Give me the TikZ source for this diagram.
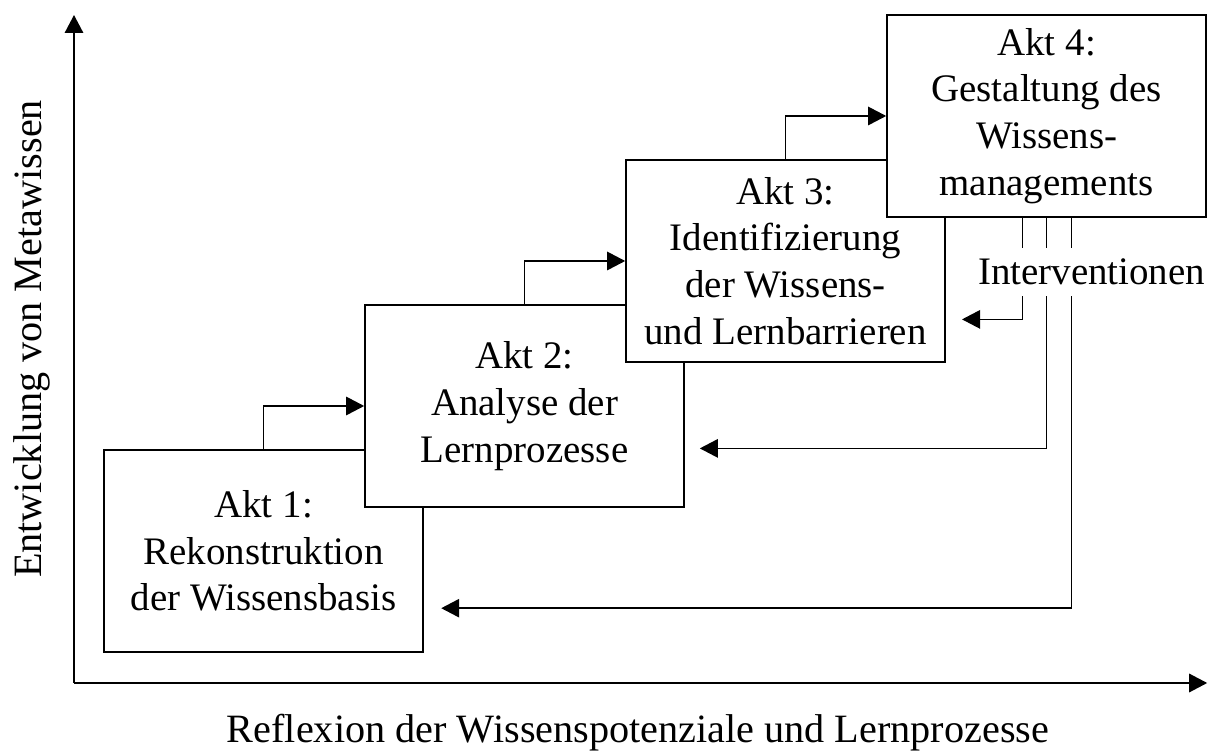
\documentclass[tikz,border=0pt]{standalone}
\usepackage{fontspec}
\setmainfont{Liberation Serif}
\usetikzlibrary{arrows.meta,positioning,calc}

\begin{document}
\begin{tikzpicture}[%
    >={Triangle[length=4.5mm,width=4.6mm]}, % filled arrow heads
    node distance=3.625cm and 6.525cm,     % step between the acts
    ]

\tikzset{
  akt/.style={draw, fill=white, line width=1.3pt, on grid, align=center,
    minimum width=7.975cm, minimum height=5.05cm,
    font=\fontsize{27.7}{33.2}\selectfont},
  % axis labels
  lab/.style={font=\fontsize{28.6}{31.3}\selectfont},
  coord/.style={coordinate},
  % -------------------------------------------------
  norm/.style={->, draw, line width=1.1pt},
  axis/.style={->, draw, line width=1.3pt},
}

  \useasboundingbox (0,0) rectangle (30.35,18.775);

  % axes
  \coordinate (origin) at (1.85,1.7);
  \coordinate (y_end) at (1.85,18.4);
  \coordinate (x_end) at (30.18,1.7);
  \draw[axis] (origin) -- (y_end);
  \draw[axis] (origin) -- (x_end);
  \node[lab, rotate=90] (y_lab) at (0.8,10.3) {Entwicklung von Metawissen};
  \node[lab] (x_lab) at (15.95,0.45) {Reflexion der Wissenspotenziale und Lernprozesse};

  \begin{scope}
    \node[akt] (akt1) at (6.59,5.0) {Akt 1:\\Rekonstruktion\\der Wissensbasis};
    \node[akt, above right=of akt1] (akt2) {Akt 2:\\Analyse der\\Lernprozesse};
    \node[akt, above right=of akt2] (akt3) {Akt 3:\\Identifizierung\\der Wissens-\\und Lernbarrieren};
    \node[akt, above right=of akt3] (akt4) {Akt 4:\\Gestaltung des\\Wissens-\\managements};

    \draw[norm] (akt1.north) |- (akt2.west);
    \draw[norm] (akt2.north) |- (akt3.west);
    \draw[norm] (akt3.north) |- (akt4.west);

    % interventions back to the acts
    \coordinate (iv1) at ($(akt4.south)+(-0.6,0)$);
    \coordinate (iv2) at ($(akt4.south)+(0,0)$);
    \coordinate (iv3) at ($(akt4.south)+(0.625,0)$);
    \coordinate (akt3_right) at ($(akt3.east)+(0.4,-1.46)$);
    \coordinate (akt2_right) at ($(akt2.east)+(0.37,-1.06)$);
    \coordinate (akt1_right) at ($(akt1.east)+(0.43,-1.43)$);
    \draw[norm] (iv1) |- (akt3_right);
    \draw[norm] (iv2) |- (akt2_right);
    \draw[norm] (iv3) |- (akt1_right);

    \node[fill=white, inner xsep=2pt, inner ysep=0.27cm, font=\fontsize{27.7}{31.3}\selectfont]
      (interv) at ($(akt4)+(1.125,-3.9)$) {Interventionen};
  \end{scope}
\end{tikzpicture}
\end{document}
